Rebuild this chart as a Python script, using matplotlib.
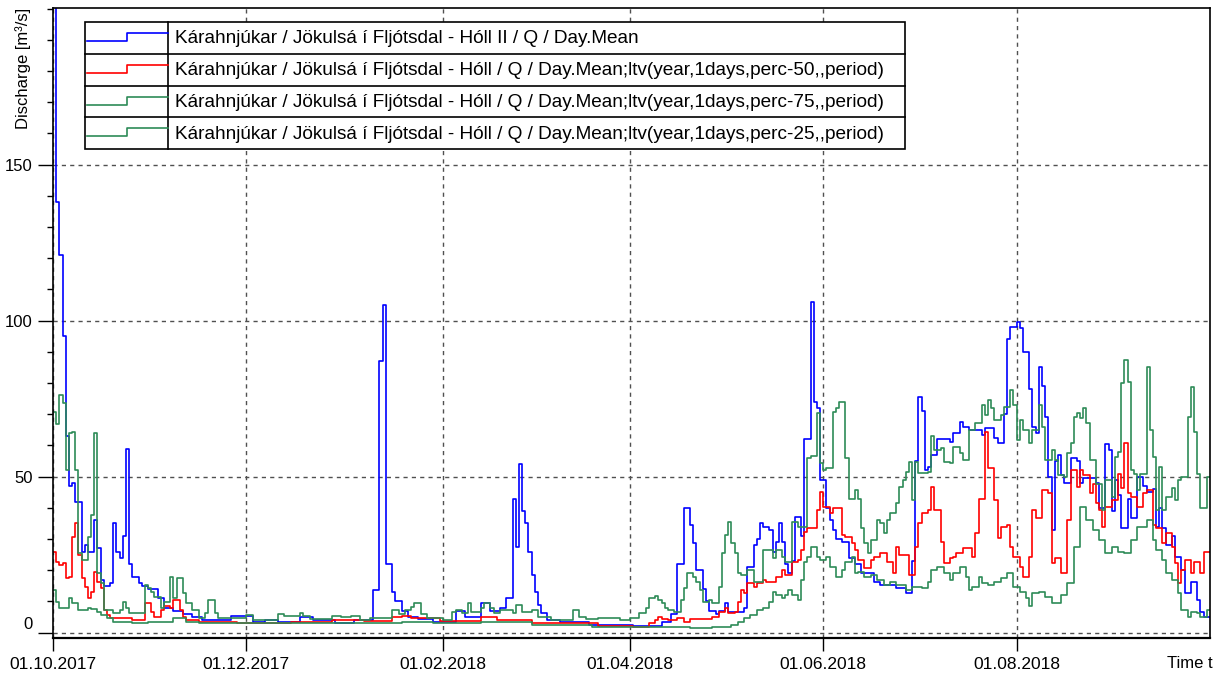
import datetime
import numpy as np
import matplotlib
matplotlib.use('Agg')
import matplotlib.pyplot as plt
import matplotlib.dates as mdates
from matplotlib.ticker import MultipleLocator
from matplotlib.transforms import ScaledTranslation

plt.rcParams['font.family'] = ['Liberation Sans', 'DejaVu Sans']

# day offsets from 01.10.2017 where the daily step changes, and the value from that day on
blue_day = [0, 1, 2, 3, 4, 5, 6, 7, 9, 10, 11, 13, 14, 15, 16, 18, 19, 20, 21, 22, 23, 24, 25, 27, 28, 30, 33, 35, 38, 41, 44, 47,
            56, 63, 67, 71, 78, 82, 89, 95, 101, 103, 104, 105, 107, 108, 110, 112, 115, 120, 127, 130, 135, 138, 141, 143,
            145, 146, 147, 148, 149, 150, 151, 152, 153, 154, 156, 160, 169, 183, 192, 195, 197, 199, 201, 202, 203, 205,
            206, 207, 209, 210, 212, 213, 218, 219, 221, 222, 223, 224, 226, 227, 228, 229, 230, 231, 232, 233, 234, 236,
            237, 239, 240, 241, 242, 244, 245, 246, 247, 249, 251, 253, 255, 259, 261, 266, 269, 271, 272, 273, 274, 275,
            276, 277, 279, 283, 284, 286, 287, 289, 293, 294, 297, 298, 300, 301, 302, 304, 305, 306, 308, 309, 310, 311,
            312, 313, 314, 315, 316, 317, 318, 319, 321, 323, 324, 325, 329, 330, 332, 333, 334, 335, 336, 337, 339, 340,
            342, 344, 345, 347, 348, 349, 350, 351, 353, 354, 356, 357, 359, 361, 362, 363]
blue_q = [230, 138, 121, 95, 63, 47, 48, 42, 26, 28, 26, 36, 27, 17, 15, 16, 35, 26, 24, 31, 59, 22, 18, 16, 15, 14, 11, 8, 7, 6, 5, 4,
          5.5, 3.5, 4, 3.5, 5, 4, 3.2, 4, 13.7, 87, 105, 22, 13, 10, 7, 5, 4.5, 3.5, 7, 5, 9.5, 7, 8, 11,
          43, 27.5, 54, 39, 35, 26, 18.5, 13, 9, 6.3, 4, 3.5, 2.5, 2, 3.5, 6, 22, 40, 34.5, 28.6, 20, 14,
          10, 7, 6, 7, 9.5, 6.7, 8, 21, 28, 30, 35, 34, 33, 26, 29, 35, 29, 22, 19, 23, 37, 31,
          62, 106, 74, 72, 49, 40, 36, 33, 30, 29, 24, 22, 19, 16.4, 15.3, 14.3, 12.7, 23, 55, 75.6, 71, 52,
          53, 57, 62, 61, 64, 67.6, 66, 65, 63.4, 65.5, 62.3, 60.7, 70, 94, 98, 99.7, 97.5, 90, 78, 66, 64, 85,
          79, 69, 50, 33, 55, 57, 50.5, 48, 56, 55, 48, 49.5, 48, 40, 60.5, 58.6, 39, 49, 44, 33.5, 43, 36.7,
          50, 47, 45, 46, 34, 40, 33.5, 28, 31, 24.4, 20, 12.6, 16.3, 10.5, 6.7, 5]

red_day = [0, 1, 2, 3, 4, 5, 6, 7, 8, 9, 10, 11, 12, 13, 14, 15, 16, 17, 18, 25, 29, 31, 32, 34, 35, 37, 38, 40, 41, 42, 46, 58,
           75, 88, 98, 107, 110, 113, 122, 135, 140, 151, 172, 183, 188, 190, 191, 192, 194, 197, 199, 201, 208, 210, 212,
           213, 215, 216, 217, 218, 219, 221, 222, 224, 225, 228, 230, 231, 233, 235, 236, 237, 238, 241, 242, 243, 245,
           246, 249, 250, 252, 253, 254, 256, 258, 259, 261, 263, 265, 266, 267, 270, 272, 273, 274, 276, 277, 278, 280,
           281, 283, 284, 285, 287, 290, 291, 292, 294, 295, 297, 298, 299, 301, 302, 303, 305, 306, 308, 309, 310, 312,
           314, 315, 316, 318, 320, 321, 323, 324, 325, 327, 328, 329, 330, 331, 332, 334, 336, 337, 338, 339, 340, 342,
           344, 345, 347, 348, 350, 351, 353, 354, 355, 356, 357, 359, 360, 362, 363]
red_q = [26, 22.8, 21.7, 22.2, 17.4, 17.9, 30.8, 35.3, 24.9, 17.4, 14.7, 11, 13.2, 19.5, 16.3, 14.2, 7.3, 5.7, 4.6, 4, 9.4, 6.7, 5.1,
         7.3, 8.4, 8, 10.5, 7.3, 5.1, 4, 3.5, 3, 3.5, 4, 3.8, 5, 5.3, 4.7, 3.8, 5.1, 4, 3.2, 2.3, 1.9, 3, 4, 5, 4.3, 4,
         4.6, 3.5, 4.3, 5.1, 6.7, 7.8, 6.2, 6.7, 9.9, 13.7, 12.6, 15.8, 14.7, 15.8, 16.9, 16.4, 17.9, 20, 18.5, 22.8,
         23.3, 26.6, 32.4, 33.4, 39.3, 45.2, 40.4, 38.3, 39.9, 31.3, 30.8, 28.7, 26.5, 23.3, 20.6, 23.3, 24.4, 25.4,
         22.8, 19, 27.6, 24.9, 18.5, 27.6, 35, 38.3, 39.3, 46.8, 39.3, 29, 22.2, 23.8, 24.4, 25.4, 27, 24.4, 31.9, 43,
         64.4, 52.7, 42.5, 30.3, 34, 34.5, 27.6, 24.4, 21.2, 17.9, 24.4, 39.3, 36.7, 45.7, 44.7, 22.2, 23.8, 19, 36.1,
         52.1, 46.8, 52, 50.4, 44.7, 47.5, 41.5, 39.3, 34, 40.4, 42.5, 51, 46.3, 60.7, 44.7, 43.6, 40.4, 44.7, 45.7,
         34.5, 33.5, 28.7, 31.9, 27.6, 22.2, 15.8, 20.1, 23.3, 19, 22.8, 19, 26]

p75_day = [0, 1, 2, 3, 4, 5, 6, 7, 8, 9, 11, 12, 13, 14, 15, 16, 19, 21, 22, 23, 24, 29, 30, 31, 32, 34, 35, 37, 38, 39, 41, 42,
           44, 46, 48, 49, 51, 52, 61, 63, 71, 73, 78, 79, 81, 88, 91, 94, 97, 100, 107, 109, 111, 113, 114, 116, 118, 123,
           126, 127, 129, 131, 132, 135, 136, 138, 139, 141, 145, 146, 148, 151, 153, 157, 164, 166, 168, 172, 179, 182,
           185, 187, 188, 190, 191, 192, 193, 194, 196, 198, 199, 200, 202, 203, 204, 205, 207, 208, 210, 211, 212, 213,
           214, 215, 216, 217, 219, 221, 224, 227, 228, 230, 231, 233, 235, 238, 239, 241, 242, 243, 244, 246, 247, 248,
           250, 251, 253, 254, 255, 256, 257, 258, 260, 261, 262, 263, 264, 266, 267, 268, 269, 270, 271, 272, 273, 276,
           277, 278, 280, 281, 283, 284, 286, 287, 289, 291, 293, 294, 295, 296, 297, 299, 300, 302, 303, 304, 305, 306,
           308, 309, 311, 312, 313, 315, 316, 317, 319, 320, 321, 322, 323, 324, 325, 326, 327, 329, 331, 332, 334, 335,
           336, 337, 338, 339, 340, 341, 342, 343, 345, 346, 347, 348, 349, 350, 351, 353, 354, 355, 356, 358, 359, 360,
           361, 362, 364]
p75_q = [70.8, 67, 76.2, 73.5, 52.1, 63.9, 64.4, 52.1, 25.4, 23.3, 30.8, 37.7, 63.9, 19, 15.8, 7.3, 6.2, 7.3, 9.9, 8, 6.2, 15.3,
         14.2, 13.1, 11.5, 7.8, 9.9, 17.9, 11, 17.4, 12.6, 9.4, 7.3, 4.6, 6.2, 10.5, 6.2, 4.6, 5.7, 4.1, 6, 5.4, 6.4,
         5.4, 4.3, 5.4, 4.9, 5.2, 4, 4.6, 7.3, 6, 7.3, 8.3, 9.4, 6, 4.6, 4.1, 6.7, 7.3, 6.2, 9.4, 6.7, 8, 9.4, 7.8, 6.2,
         7.3, 6.2, 9, 6.7, 7.3, 5.1, 4.1, 7.3, 5.1, 4.3, 4.6, 4.1, 4.8, 6.2, 8, 11, 11.7, 10.5, 9.6, 8, 7.3, 6.7, 10.5,
         14.2, 19, 17.9, 16.3, 13.7, 9.9, 10.5, 9.6, 14.7, 25.4, 31.2, 35.6, 28.6, 25.4, 19, 18.5, 20.1, 16.4, 26.5,
         23.9, 26.5, 24.4, 22.8, 35.6, 34, 55.9, 56.5, 70.3, 54.3, 52.1, 52.7, 70.8, 71.9, 74, 55.9, 43, 45.7, 43,
         33.5, 28.7, 25.4, 29.7, 36.1, 35, 31.9, 36.1, 38.3, 41.5, 46.8, 48.9, 51.6, 54.8, 42.5, 54.8, 51.1, 51.6, 63,
         58.5, 59.1, 54.8, 54.3, 59.6, 57.5, 55.4, 65, 67.1, 73, 69.8, 74.6, 71.9, 68.2, 69.8, 72.4, 77.8, 73, 61.8,
         68.2, 65, 60.7, 65, 73, 66, 55.4, 58.5, 55.4, 50.5, 50, 57.5, 60.7, 69.2, 70.3, 68.7, 71.9, 67.1, 55.4, 47.5,
         39.3, 49, 43.6, 56.4, 58, 80, 87.4, 80.2, 52.1, 51, 45.7, 51, 85.3, 65, 56.4, 39.3, 53.2, 39.3, 43.6, 46.3,
         42.5, 49, 50, 69.2, 78.7, 64.2, 51, 39.9, 50]

p25_day = [0, 1, 2, 5, 6, 8, 11, 12, 14, 15, 17, 19, 25, 30, 38, 40, 42, 46, 100, 110, 120, 135, 151, 170, 201, 208, 214, 216,
           218, 220, 222, 224, 226, 227, 228, 230, 231, 232, 233, 235, 236, 237, 238, 239, 241, 242, 244, 245, 247, 249,
           250, 252, 253, 254, 256, 258, 260, 262, 264, 266, 269, 271, 274, 276, 277, 279, 281, 283, 284, 286, 288, 289,
           290, 292, 293, 295, 297, 299, 301, 303, 305, 307, 308, 309, 311, 313, 315, 318, 320, 322, 324, 326, 328, 330,
           332, 334, 336, 338, 340, 342, 345, 347, 348, 350, 351, 353, 355, 356, 358, 359, 361, 362, 364]
p25_q = [13.7, 9.9, 8, 11, 9.4, 7.3, 8, 7.5, 6.7, 5.7, 4.6, 3.5, 3, 3.5, 4.8, 4.6, 3.5, 3.2, 3.2, 3.5, 3, 3.5, 2.5, 1.9, 1.6,
         1.9, 2.5, 3.5, 4.6, 5.7, 7.3, 8, 9.9, 13.2, 12.1, 11, 12.1, 13.7, 12.1, 10.5, 16.9, 22.8, 24.4, 27.6, 24.4,
         23.3, 24.4, 21.2, 17.9, 20.1, 22.8, 24.4, 19, 19.5, 17.9, 18.4, 16.9, 15.3, 16.4, 15.3, 13.7, 14.7, 14.2,
         16.4, 20.1, 21.2, 19, 16.9, 19, 21.2, 18, 13.7, 14.7, 17.9, 15.8, 15.3, 16.4, 17.4, 19, 14.7, 13.2, 11, 8.4,
         12.6, 13.2, 11.5, 9.4, 12, 15.8, 27.6, 40.4, 36.1, 32.9, 29.7, 25.4, 27.6, 26, 25.4, 29.7, 34, 36.1, 29.7,
         26.5, 23.3, 19, 16.9, 12.6, 7.3, 5.1, 6.7, 6.2, 5.1, 7.3]

labels = ['Kárahnjúkar / Jökulsá í Fljótsdal - Hóll II / Q / Day.Mean',
          'Kárahnjúkar / Jökulsá í Fljótsdal - Hóll / Q / Day.Mean;ltv(year,1days,perc-50,,period)',
          'Kárahnjúkar / Jökulsá í Fljótsdal - Hóll / Q / Day.Mean;ltv(year,1days,perc-75,,period)',
          'Kárahnjúkar / Jökulsá í Fljótsdal - Hóll / Q / Day.Mean;ltv(year,1days,perc-25,,period)']
colors = ['#0000ff', '#ff0000', '#2e8b57', '#2e8b57']
tick_dates = [datetime.date(2017, 10, 1), datetime.date(2017, 12, 1), datetime.date(2018, 2, 1),
              datetime.date(2018, 4, 1), datetime.date(2018, 6, 1), datetime.date(2018, 8, 1)]

start = mdates.date2num(datetime.date(2017, 10, 1))
end_day = 365

W, H = 1217, 677
fig = plt.figure(figsize=(W / 100, H / 100), dpi=100)
ax = fig.add_axes([53 / W, 1 - 638 / H, (1210 - 53) / W, (638 - 8) / H])

series = [(blue_day, blue_q), (red_day, red_q), (p75_day, p75_q), (p25_day, p25_q)]
for (d, q), c in zip(series, colors):
    d = list(d) + [end_day]
    q = list(q) + [q[-1]]
    ax.step(start + np.array(d), q, where='post', color=c, lw=1.2)

ax.set_xlim(start, start + end_day)
ax.set_ylim(-1.7, 200.2)
ax.set_xticks([mdates.date2num(t) for t in tick_dates])
ax.xaxis.set_major_formatter(mdates.DateFormatter('%d.%m.%Y'))
ax.set_yticks([0, 50, 100, 150])
ax.yaxis.set_minor_locator(MultipleLocator(10))
ax.grid(True, which='major', color='#505050', linestyle=(0, (3, 3)), lw=1)
ax.tick_params(axis='y', which='major', length=11, width=1, labelsize=12, colors='black')
ax.tick_params(axis='y', which='minor', length=4.5, width=1)
ax.tick_params(axis='x', which='major', length=9, width=1, labelsize=12.5, pad=5)
for s in ax.spines.values():
    s.set_linewidth(1.2)
ax.spines['bottom'].set_linewidth(1.6)

# the 0 label sits a little above its tick in the original
lab0 = ax.get_yticklabels()[0]
lab0.set_transform(lab0.get_transform() + ScaledTranslation(0, 10 / 100, fig.dpi_scale_trans))

fig.text(23 / W, 1 - 8 / H, 'Discharge [m³/s]', rotation=90, ha='center', va='top', fontsize=12)
fig.text(1190 / W, 1 - 664 / H, 'Time t', ha='center', va='center', fontsize=12)

# legend box drawn on an overlay in pixel units
ov = fig.add_axes([0, 0, 1, 1], zorder=5)
ov.set_xlim(0, W)
ov.set_ylim(H, 0)
ov.axis('off')
box_l, box_r, box_t, row_h, sep = 85, 905, 22, 31.8, 168
ov.add_patch(plt.Rectangle((box_l, box_t), box_r - box_l, row_h * 4, facecolor='white', edgecolor='black', lw=1.2))
ov.plot([sep, sep], [box_t, box_t + row_h * 4], color='black', lw=1.2)
for i, (lab, c) in enumerate(zip(labels, colors)):
    top = box_t + i * row_h
    if i > 0:
        ov.plot([box_l, box_r], [top, top], color='black', lw=1.2)
    ov.plot([box_l + 2, 127, 127, sep], [top + 19, top + 19, top + 11, top + 11], color=c, lw=1.2)
    ov.text(175, top + row_h / 2 + 1, lab, ha='left', va='center', fontsize=13.7)

fig.savefig('out.png', dpi=100)
